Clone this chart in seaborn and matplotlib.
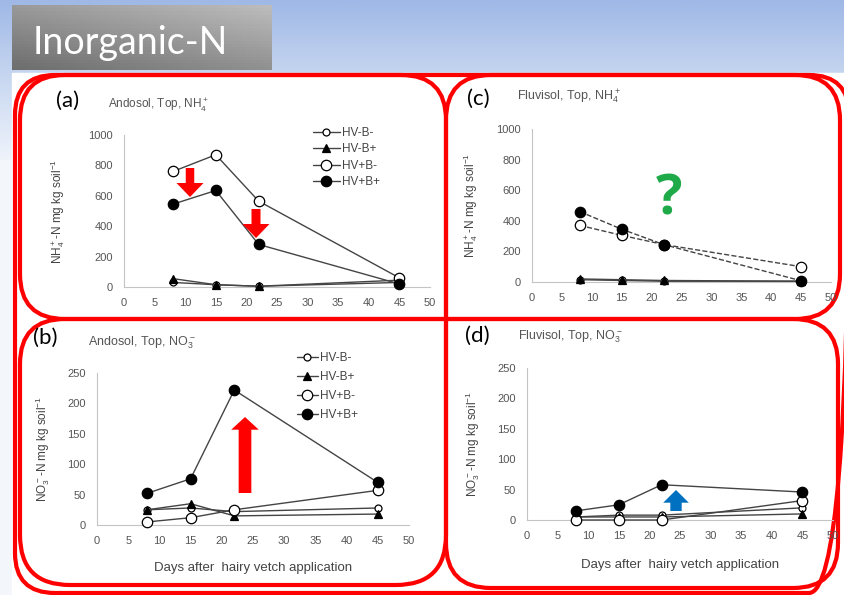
import numpy as np
import pandas as pd
import seaborn as sns
import matplotlib.pyplot as plt
from matplotlib.path import Path
from matplotlib.patches import PathPatch, FancyArrow, Rectangle
from matplotlib.colors import LinearSegmentedColormap

# days after hairy vetch application
days = [8, 15, 22, 45]
treatments = ["HV-B-", "HV-B+", "HV+B-", "HV+B+"]

# (a) Andosol, Top, NH4+  (one list per treatment, same order as treatments)
andosol_nh4 = [[30, 15, 5, 45], [55, 15, 5, 30], [760, 870, 565, 60], [545, 635, 280, 20]]
# (c) Fluvisol, Top, NH4+
fluvisol_nh4 = [[15, 10, 5, 5], [20, 15, 10, 5], [370, 305, 245, 100], [460, 345, 245, 8]]
# (b) Andosol, Top, NO3-
andosol_no3 = [[25, 28, 22, 28], [25, 35, 15, 18], [5, 12, 25, 57], [52, 76, 222, 70]]
# (d) Fluvisol, Top, NO3-
fluvisol_no3 = [[5, 8, 8, 20], [5, 5, 5, 10], [0, 0, 0, 32], [15, 25, 58, 46]]

nh4_ticks = [0, 200, 400, 600, 800, 1000]
no3_ticks = [0, 50, 100, 150, 200, 250]
day_ticks = list(range(0, 55, 5))

W, H = 844, 595

marker_style = {
    "HV-B-": dict(marker='o', markersize=5, markerfacecolor='white'),
    "HV-B+": dict(marker='^', markersize=6, markerfacecolor='black'),
    "HV+B-": dict(marker='o', markersize=7.5, markerfacecolor='white'),
    "HV+B+": dict(marker='o', markersize=7.5, markerfacecolor='black'),
}


def px_rect(x0, y0, x1, y1):
    return [x0 / W, 1 - y1 / H, (x1 - x0) / W, (y1 - y0) / H]


def round_box(ax, x0, y0, x1, y1, radii, **kw):
    tl, tr, br, bl = radii
    verts = [(x0 + tl, y0), (x1 - tr, y0), (x1, y0), (x1, y0 + tr),
             (x1, y1 - br), (x1, y1), (x1 - br, y1),
             (x0 + bl, y1), (x0, y1), (x0, y1 - bl),
             (x0, y0 + tl), (x0, y0), (x0 + tl, y0)]
    codes = [Path.MOVETO, Path.LINETO, Path.CURVE3, Path.CURVE3,
             Path.LINETO, Path.CURVE3, Path.CURVE3,
             Path.LINETO, Path.CURVE3, Path.CURVE3,
             Path.LINETO, Path.CURVE3, Path.CURVE3]
    ax.add_patch(PathPatch(Path(verts, codes), fill=False, **kw))


def draw_panel(rect, values, yticks, ylabel, dashed=False, legend_at=None,
               spacing=0.5, handle=2.0, xlabel=None, ylab_x=-0.18,
               xlab_y=-0.25):
    ax = fig.add_axes(px_rect(*rect))
    ax.set_facecolor('none')
    for name, vals in zip(treatments, values):
        ls = '--' if (dashed and name.startswith("HV+")) else '-'
        sns.lineplot(x=days, y=vals, ax=ax, color='#444444', linewidth=1,
                     linestyle=ls, markeredgecolor='black', markeredgewidth=0.9,
                     label=name, legend=False, clip_on=False, zorder=3,
                     **marker_style[name])
    ax.set_xlim(0, 50)
    ax.set_ylim(0, yticks[-1])
    ax.set_xticks(day_ticks)
    ax.set_yticks(yticks)
    for s in ['top', 'right']:
        ax.spines[s].set_visible(False)
    for s in ['left', 'bottom']:
        ax.spines[s].set_color('#c4c4c4')
        ax.spines[s].set_linewidth(0.8)
    ax.tick_params(axis='both', labelsize=8, labelcolor='#555555',
                   color='#c4c4c4', length=3, width=0.8)
    ax.tick_params(axis='x', pad=5)
    ax.tick_params(axis='y', pad=5)
    ax.set_ylabel(ylabel, fontsize=8.5, color='#444444')
    ax.yaxis.set_label_coords(ylab_x, 0.5)
    if xlabel:
        ax.set_xlabel(xlabel, fontsize=9.5, color='#444444')
        ax.xaxis.set_label_coords(0.5, xlab_y)
    else:
        ax.set_xlabel('')
    if legend_at:
        ax.legend(loc='upper left', bbox_to_anchor=legend_at, frameon=False,
                  fontsize=8.5, handlelength=handle, handletextpad=0.2,
                  labelspacing=spacing, borderaxespad=0, borderpad=0,
                  labelcolor='#444444')
    return ax


sns.set_theme(style='white')
plt.rcParams['font.family'] = ['Liberation Sans', 'DejaVu Sans']
plt.rcParams['mathtext.default'] = 'regular'

fig = plt.figure(figsize=(W / 100, H / 100), dpi=100)

# slide background, title box and red frames
bg = fig.add_axes([0, 0, 1, 1])
bg.axis('off')
sky = LinearSegmentedColormap.from_list('sky', ['#9fb8e6', '#c9d8f1', '#eef3fb'])
bg.imshow(np.linspace(0, 1, 100).reshape(-1, 1), extent=[0, W, 160, 0],
          aspect='auto', cmap=sky, zorder=0)
bg.add_patch(Rectangle((0, 160), W, H, color='#f3f6fb', zorder=0))
bg.add_patch(Rectangle((12, 73), W, H, color='white', zorder=1))
gx, gy = np.meshgrid(np.linspace(0, 1, 60), np.linspace(0, 1, 20))
grey = LinearSegmentedColormap.from_list('grey', ['#bcbcbc', '#6e6e6e'])
bg.imshow(0.55 * gy + 0.45 * (1 - gx), extent=[12, 272, 70, 5], aspect='auto',
          cmap=grey, zorder=2)
bg.text(33, 43, "Inorganic-N", fontsize=27, color='white', va='center',
        ha='left', family=['Lato', 'DejaVu Sans'], zorder=3)

red = dict(edgecolor='#ff0000', linewidth=3, zorder=4)
round_box(bg, 15, 75, 849, 593, (40, 40, 40, 40), **red)
round_box(bg, 20, 75, 446, 319, (45, 45, 0, 45), **red)
round_box(bg, 446, 75, 840, 319, (45, 45, 45, 0), **red)
round_box(bg, 20, 319, 446, 585, (45, 0, 50, 50), **red)
round_box(bg, 446, 319, 838, 588, (0, 45, 45, 45), **red)
bg.set_xlim(0, W)
bg.set_ylim(H, 0)

nh4_label = "NH$_4^+$-N mg kg soil$^{-1}$"
no3_label = "NO$_3^-$-N mg kg soil$^{-1}$"
xlab = "Days after  hairy vetch application"

draw_panel((124, 135, 430, 287), andosol_nh4, nh4_ticks, nh4_label,
           legend_at=(0.617, 1.053), spacing=0.38, handle=2.3, ylab_x=-0.186)
draw_panel((532, 129, 831, 282), fluvisol_nh4, nh4_ticks, nh4_label,
           dashed=True, ylab_x=-0.175)
draw_panel((97, 373, 409, 525), andosol_no3, no3_ticks, no3_label,
           legend_at=(0.64, 1.14), spacing=0.6, handle=1.8, xlabel=xlab,
           ylab_x=-0.144, xlab_y=-0.243)
draw_panel((527, 368, 833, 520), fluvisol_no3, no3_ticks, no3_label,
           xlabel=xlab, ylab_x=-0.147, xlab_y=-0.257)

# overlay: panel letters, subtitles and arrows
fg = fig.add_axes([0, 0, 1, 1])
fg.axis('off')
fg.set_facecolor('none')
fg.set_xlim(0, W)
fg.set_ylim(H, 0)
letter = dict(fontsize=16, color='black', va='center', family=['Lato', 'DejaVu Sans'])
sub = dict(fontsize=9, color='#555555', va='center')
fg.text(56, 101, "(a)", **letter)
fg.text(108, 105, "Andosol, Top, NH$_4^+$", fontsize=8.5, color='#555555', va='center')
fg.text(467, 99, "(c)", **letter)
fg.text(517, 97, "Fluvisol, Top, NH$_4^+$", **sub)
fg.text(33, 338, "(b)", **letter)
fg.text(88, 343, "Andosol, Top, NO$_3^-$", **sub)
fg.text(465, 336, "(d)", **letter)
fg.text(518, 337, "Fluvisol, Top, NO$_3^-$", **sub)

arrow = dict(length_includes_head=True, linewidth=0)
fg.add_patch(FancyArrow(190, 168, 0, 29, width=8.5, head_width=27,
                        head_length=14, color='#ff0000', **arrow))
fg.add_patch(FancyArrow(256, 209, 0, 29, width=9, head_width=27,
                        head_length=14, color='#ff0000', **arrow))
fg.add_patch(FancyArrow(245, 493, 0, -76, width=12.7, head_width=27.6,
                        head_length=12.7, color='#ff0000', **arrow))
fg.add_patch(FancyArrow(676, 511, 0, -21, width=11.4, head_width=25.6,
                        head_length=12.7, color='#0070c0', **arrow))
fg.text(669, 200, "?", fontsize=40, fontweight='bold', color='#1faa4a',
        ha='center', va='center', family=['Open Sans', 'DejaVu Sans'])

fig.savefig('out.png', dpi=100)
